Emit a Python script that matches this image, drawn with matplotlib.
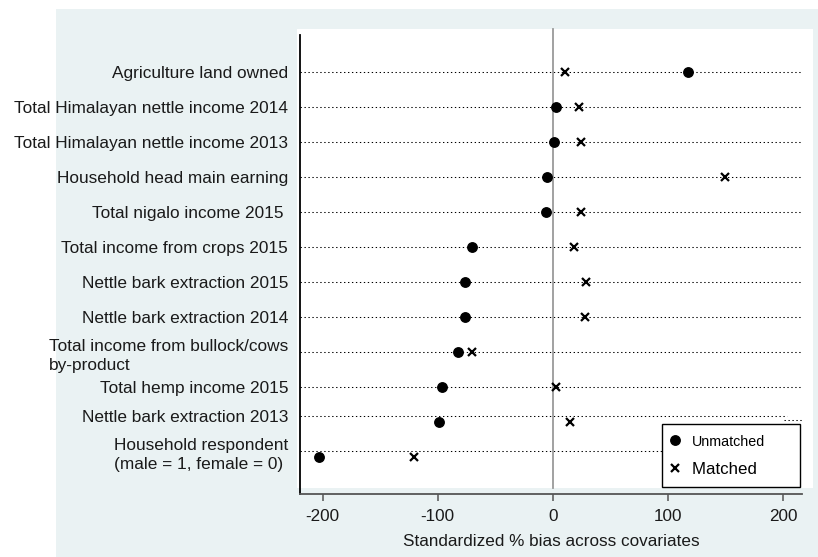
import matplotlib
matplotlib.use("Agg")
import matplotlib.pyplot as plt
from matplotlib.patches import Rectangle
from matplotlib.lines import Line2D

plt.rcParams['font.family'] = ['Liberation Sans', 'DejaVu Sans']

# Covariates, top to bottom
covariates = [
    "Agriculture land owned",
    "Total Himalayan nettle income 2014",
    "Total Himalayan nettle income 2013",
    "Household head main earning",
    "Total nigalo income 2015 ",
    "Total income from crops 2015",
    "Nettle bark extraction 2015",
    "Nettle bark extraction 2014",
    "Total income from bullock/cows\nby-product",
    "Total hemp income 2015",
    "Nettle bark extraction 2013",
    "Household respondent\n(male = 1, female = 0)",
]
# Standardized % bias before and after matching
unmatched = [117.7, 3.1, 1.4, -4.7, -6.1, -69.9, -76.0, -76.3, -82.0, -96.0, -99.1, -203.0]
matched = [10.4, 22.9, 24.6, 149.8, 24.9, 18.8, 28.7, 28.1, -69.9, 3.1, 15.0, -120.3]
xticks = [-200, -100, 0, 100, 200]
legend_labels = ["Unmatched", "Matched"]

W, H = 818, 557
fig = plt.figure(figsize=(W / 100, H / 100), dpi=100)
fig.patch.set_facecolor("white")

def fx(px):
    return px / W

def fy(py):
    return 1 - py / H

# graph region and plot region backgrounds
fig.patches.append(Rectangle((fx(56), 0), 1 - fx(56), fy(9), transform=fig.transFigure,
                             facecolor="#EAF2F3", edgecolor="none", zorder=-3))
fig.patches.append(Rectangle((fx(297), fy(488)), fx(813) - fx(297), fy(29) - fy(488),
                             transform=fig.transFigure, facecolor="white",
                             edgecolor="none", zorder=-2))

ax = fig.add_axes([fx(300), fy(494), fx(802) - fx(300), fy(35) - fy(494)])
ax.set_facecolor("none")

n = len(covariates)
rows = list(range(n))
# label / guide positions (the last two sit slightly above their markers)
label_pos = [r if r < n - 2 else r - 0.17 for r in rows]

ax.set_xlim(-219.7, 216.5)
ax.set_ylim(n - 1 + 1.057, -1.057)

dot_style = dict(color="black", linewidth=0.75, linestyle=(0, (1.3, 2.5)), zorder=1)
for i, y in enumerate(label_pos):
    if i == n - 2:
        ax.plot([0, 0.97], [y, y], transform=ax.get_yaxis_transform(), **dot_style)
        ax.plot([0.965, 1.0], [y + 0.12, y + 0.12], transform=ax.get_yaxis_transform(), **dot_style)
    else:
        ax.plot([0, 1], [y, y], transform=ax.get_yaxis_transform(), **dot_style)

ax.axvline(0, ymin=6 / 459, ymax=1 + 6 / 459, color="#9a9a9a", linewidth=1.3,
           clip_on=False, zorder=2)

ax.plot(unmatched, rows, linestyle="none", marker="o", markersize=6.8,
        color="black", zorder=3)
ax.plot(matched, rows, linestyle="none", marker="x", markersize=5.2,
        markeredgewidth=1.6, color="black", zorder=3)

ax.set_yticks(label_pos)
ax.set_yticklabels(covariates, fontsize=12.4, color="#1a1a1a")
for t in ax.get_yticklabels():
    t.set_multialignment("left")
    t.set_linespacing(1.35)
ax.tick_params(axis="y", length=0, pad=8.6)

ax.set_xticks(xticks)
ax.set_xticklabels([str(v) for v in xticks], fontsize=12.3, color="#1a1a1a")
ax.tick_params(axis="x", length=5, width=1.1, color="#555555", pad=6)
ax.set_xlabel("Standardized % bias across covariates", fontsize=12.3,
              color="#1a1a1a", labelpad=7)

for side in ("top", "right"):
    ax.spines[side].set_visible(False)
ax.spines["left"].set_color("black")
ax.spines["left"].set_linewidth(1.3)
ax.spines["bottom"].set_color("#555555")
ax.spines["bottom"].set_linewidth(1.3)

handles = [
    Line2D([], [], linestyle="none", marker="o", markersize=6.8, color="black"),
    Line2D([], [], linestyle="none", marker="x", markersize=5.2, markeredgewidth=1.6, color="black"),
]
leg = ax.legend(handles, [legend_labels[0], legend_labels[1] + "       "],
                loc="lower right", bbox_to_anchor=(0.996, 0.015), borderaxespad=0,
                fancybox=False, framealpha=1, edgecolor="black", handlelength=0.3,
                handletextpad=0.85, borderpad=0.6, labelspacing=0.75, fontsize=12.2)
leg.get_frame().set_linewidth(1.0)
leg.get_texts()[0].set_fontsize(10.3)
leg.set_zorder(5)

fig.savefig("out.png", dpi=100)
